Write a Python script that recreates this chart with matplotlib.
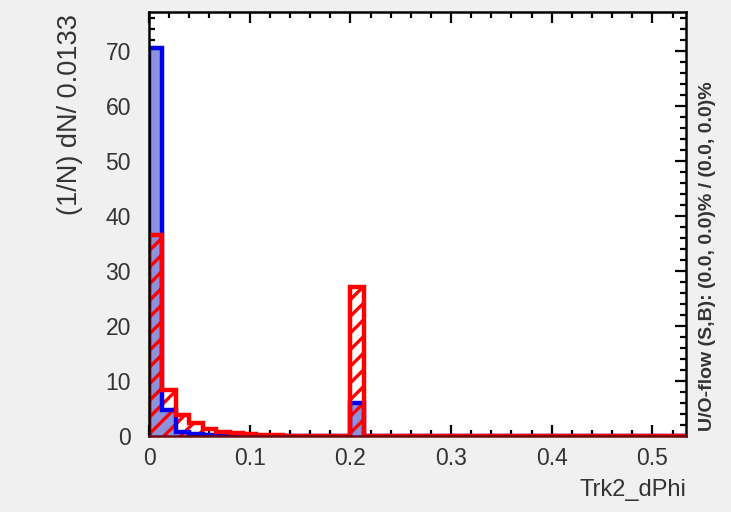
import numpy as np
import matplotlib
matplotlib.use("Agg")
import matplotlib.pyplot as plt
from matplotlib.ticker import MultipleLocator

plt.rcParams['font.family'] = ['Liberation Sans', 'DejaVu Sans']
plt.rcParams['hatch.color'] = '#ff0000'
plt.rcParams['hatch.linewidth'] = 2.4

# Histogram binning: 40 bins of width 0.0133 on [0, 0.533]
n_bins = 40
x_min, x_max = 0.0, 0.5333

# Normalised bin contents (1/N dN / bin width)
signal = [70.5, 4.8, 0.8, 0.3, 0.1, 0.0, 0.0, 0.0, 0.0, 0.0,
          0.0, 0.0, 0.0, 0.0, 0.0, 6.0, 0.0, 0.0, 0.0, 0.0,
          0.0, 0.0, 0.0, 0.0, 0.0, 0.0, 0.0, 0.0, 0.0, 0.0,
          0.0, 0.0, 0.0, 0.0, 0.0, 0.0, 0.0, 0.0, 0.0, 0.0]
background = [36.5, 8.3, 3.8, 2.3, 1.3, 0.8, 0.5, 0.3, 0.2, 0.1,
              0.0, 0.0, 0.0, 0.0, 0.0, 27.0, 0.0, 0.0, 0.0, 0.0,
              0.0, 0.0, 0.0, 0.0, 0.0, 0.0, 0.0, 0.0, 0.0, 0.0,
              0.0, 0.0, 0.0, 0.0, 0.0, 0.0, 0.0, 0.0, 0.0, 0.0]

x_ticks = [0, 0.1, 0.2, 0.3, 0.4, 0.5]
x_tick_labels = ['0', '0.1', '0.2', '0.3', '0.4', '0.5']
x_label = "Trk2_dPhi"
y_label = "(1/N) dN/ 0.0133"
flow_label = "U/O-flow (S,B): (0.0, 0.0)% / (0.0, 0.0)%"

edges = np.linspace(x_min, x_max, n_bins + 1)

fig = plt.figure(figsize=(7.31, 5.12), dpi=100)
fig.patch.set_facecolor('#f0f0f0')
ax = fig.add_axes([149 / 731, 1 - 436 / 512, (686 - 149) / 731, (436 - 12) / 512])
ax.set_facecolor('white')

# signal: filled, blue outline; background: red hatching, red outline
ax.stairs(signal, edges, fill=True, facecolor='#8c92dc', edgecolor='none', zorder=2)
ax.stairs(background, edges, fill=True, facecolor='none', hatch='//',
          edgecolor='#ff0000', linewidth=0, zorder=3)
ax.stairs(signal, edges, fill=False, edgecolor='#0000ee', linewidth=3.2, zorder=4)
ax.stairs(background, edges, fill=False, edgecolor='#ff0000', linewidth=3.2, zorder=5)

ax.set_xlim(x_min, x_max)
ax.set_ylim(0, 77)

ax.set_xticks(x_ticks)
ax.set_xticklabels(x_tick_labels)
ax.xaxis.set_minor_locator(MultipleLocator(0.02))
ax.yaxis.set_major_locator(MultipleLocator(10))
ax.yaxis.set_minor_locator(MultipleLocator(2))

ax.tick_params(which='both', direction='in', top=True, right=True,
               color='black', width=1.6, labelsize=16.5, labelcolor='#333333')
ax.tick_params(which='major', length=8)
ax.tick_params(which='minor', length=4)
ax.tick_params(axis='x', pad=8)
ax.tick_params(axis='y', pad=13)
for sp in ax.spines.values():
    sp.set_linewidth(1.8)
    sp.set_zorder(6)
ax.spines['bottom'].set_color('#6e0b12')

fig.text(70 / 731, 1 - 14 / 512, y_label, rotation=90, ha='center', va='top',
         fontsize=19.5, color='#333333')
fig.text(686 / 731, 1 - 490 / 512, x_label, ha='right', va='center',
         fontsize=17, color='#333333')
fig.text(708 / 731, 1 - 256 / 512, flow_label, rotation=90, ha='center', va='center',
         fontsize=14, fontweight='bold', color='#333333')

fig.savefig("out.png", dpi=100, facecolor=fig.get_facecolor())
